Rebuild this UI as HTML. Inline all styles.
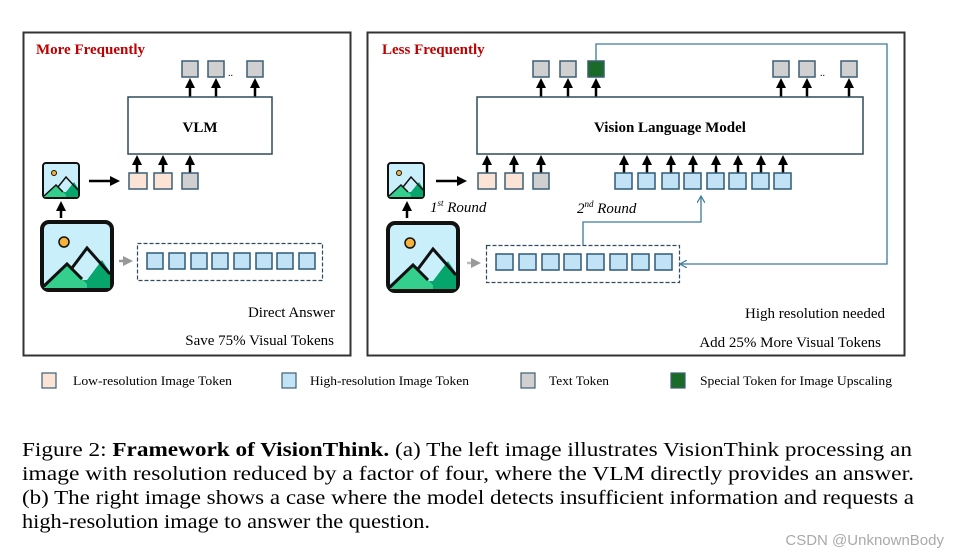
<!DOCTYPE html>
<html><head><meta charset="utf-8"><style>
body{margin:0;background:#fff;}
svg{display:block;font-family:"Liberation Serif",serif;}
</style></head><body>
<svg width="959" height="555" viewBox="0 0 959 555" xmlns="http://www.w3.org/2000/svg">
<defs>
<marker id="ab" markerWidth="4" markerHeight="4" refX="2" refY="2" orient="auto" markerUnits="strokeWidth"><path d="M0,0 L4,2 L0,4 z" fill="#000"/></marker>
<marker id="ag" markerWidth="4" markerHeight="4" refX="2" refY="2" orient="auto" markerUnits="strokeWidth"><path d="M0,0 L4,2 L0,4 z" fill="#999"/></marker>
<marker id="at" markerWidth="8" markerHeight="8" refX="6" refY="4" orient="auto" markerUnits="userSpaceOnUse"><path d="M0,0 L7,4 L0,8" fill="none" stroke="#3d7a99" stroke-width="1.2"/></marker>
<g id="img">
<rect x="0" y="0" width="70" height="68" rx="7" fill="#c9effa" stroke="#111" stroke-width="4"/>
<circle cx="22" cy="20" r="5" fill="#f7b23b" stroke="#111" stroke-width="1.5"/>
<path d="M2,66 L25,42 L40,58 L45,58 L60,38 L68,50 L68,66 Z" fill="#05a56c"/>
<path d="M2,66 L25,42 L45,62 L45,66 Z" fill="#34cf8d"/>
<path d="M2,64 L25,42 L40,57 M30,46 L45,26 L68,52" fill="none" stroke="#111" stroke-width="3"/>
</g>
<g id="sim">
<rect x="0" y="0" width="36" height="35" rx="3" fill="#c9effa" stroke="#111" stroke-width="2"/>
<circle cx="11" cy="10" r="2.5" fill="#f7b23b" stroke="#111" stroke-width="1"/>
<path d="M1,34 L13,22 L20,29 L23,29 L31,19 L35,25 L35,34 Z" fill="#05a56c"/>
<path d="M1,34 L13,22 L23,32 L23,34 Z" fill="#34cf8d"/>
<path d="M1,33 L13,22 L20,29 M15,24 L23,14 L35,27" fill="none" stroke="#111" stroke-width="1.5"/>
</g>
</defs>

<!-- Left panel -->
<rect x="23.5" y="32.5" width="327" height="323" fill="none" stroke="#333" stroke-width="2"/>
<text x="36" y="54" font-size="15" font-weight="bold" fill="#c00000">More Frequently</text>
<g fill="#d0d0d0" stroke="#3d5f75" stroke-width="1.5">
<rect x="182" y="61" width="16" height="16"/><rect x="208" y="61" width="16" height="16"/><rect x="247" y="61" width="16" height="16"/>
</g>
<text x="228" y="76" font-size="10">..</text>
<g stroke="#000" stroke-width="2.5" marker-end="url(#ab)">
<line x1="190" y1="97" x2="190" y2="83"/><line x1="216" y1="97" x2="216" y2="83"/><line x1="255" y1="97" x2="255" y2="83"/>
<line x1="137" y1="173" x2="137" y2="160"/><line x1="163" y1="173" x2="163" y2="160"/><line x1="190" y1="173" x2="190" y2="160"/>
<line x1="89" y1="181" x2="115" y2="181"/>
<line x1="61" y1="218" x2="61" y2="206"/>
</g>
<rect x="128" y="97" width="144" height="57" fill="#fff" stroke="#2f4a5c" stroke-width="1.5"/>
<text x="200" y="132" font-size="15" font-weight="bold" text-anchor="middle">VLM</text>
<rect x="129" y="173" width="18" height="16" fill="#fbe3d6" stroke="#3d5f75" stroke-width="1.5"/>
<rect x="154" y="173" width="18" height="16" fill="#fbe3d6" stroke="#3d5f75" stroke-width="1.5"/>
<rect x="182" y="173" width="16" height="16" fill="#d0d0d0" stroke="#3d5f75" stroke-width="1.5"/>
<use href="#sim" x="43" y="163"/>
<use href="#img" x="42" y="222"/>
<line x1="119" y1="261" x2="128" y2="261" stroke="#999" stroke-width="2.5" marker-end="url(#ag)"/>
<rect x="137.5" y="243.5" width="185" height="37" fill="none" stroke="#2f4a5c" stroke-width="1.2" stroke-dasharray="4,2"/>
<g fill="#c2e3f5" stroke="#2f5a75" stroke-width="1.5">
<rect x="147" y="253" width="16" height="16"/><rect x="169" y="253" width="16" height="16"/><rect x="191" y="253" width="16" height="16"/><rect x="212" y="253" width="16" height="16"/><rect x="234" y="253" width="16" height="16"/><rect x="256" y="253" width="16" height="16"/><rect x="277" y="253" width="16" height="16"/><rect x="299" y="253" width="16" height="16"/>
</g>
<text x="335" y="317" font-size="15" text-anchor="end">Direct Answer</text>
<text x="334" y="345" font-size="15" text-anchor="end">Save 75% Visual Tokens</text>

<!-- Right panel -->
<rect x="367.5" y="32.5" width="537" height="323" fill="none" stroke="#333" stroke-width="2"/>
<text x="382" y="54" font-size="15" font-weight="bold" fill="#c00000">Less Frequently</text>
<g fill="#d0d0d0" stroke="#3d5f75" stroke-width="1.5">
<rect x="533" y="61" width="16" height="16"/><rect x="560" y="61" width="16" height="16"/>
<rect x="773" y="61" width="16" height="16"/><rect x="799" y="61" width="16" height="16"/><rect x="841" y="61" width="16" height="16"/>
</g>
<rect x="588" y="61" width="16" height="16" fill="#1a6b28" stroke="#3d5f75" stroke-width="1.5"/>
<text x="820" y="76" font-size="10">..</text>
<g stroke="#000" stroke-width="2.5" marker-end="url(#ab)">
<line x1="541" y1="97" x2="541" y2="83"/><line x1="568" y1="97" x2="568" y2="83"/><line x1="596" y1="97" x2="596" y2="83"/>
<line x1="781" y1="97" x2="781" y2="83"/><line x1="807" y1="97" x2="807" y2="83"/><line x1="849" y1="97" x2="849" y2="83"/>
<line x1="487" y1="173" x2="487" y2="160"/><line x1="514" y1="173" x2="514" y2="160"/><line x1="541" y1="173" x2="541" y2="160"/>
<line x1="624" y1="173" x2="624" y2="160"/><line x1="647" y1="173" x2="647" y2="160"/><line x1="671" y1="173" x2="671" y2="160"/><line x1="693" y1="173" x2="693" y2="160"/><line x1="716" y1="173" x2="716" y2="160"/><line x1="738" y1="173" x2="738" y2="160"/><line x1="761" y1="173" x2="761" y2="160"/><line x1="783" y1="173" x2="783" y2="160"/>
<line x1="436" y1="181" x2="462" y2="181"/>
<line x1="407" y1="218" x2="407" y2="206"/>
</g>
<rect x="477" y="97" width="386" height="57" fill="#fff" stroke="#2f4a5c" stroke-width="1.5"/>
<text x="670" y="132" font-size="15" font-weight="bold" text-anchor="middle">Vision Language Model</text>
<rect x="478" y="173" width="18" height="16" fill="#fbe3d6" stroke="#3d5f75" stroke-width="1.5"/>
<rect x="505" y="173" width="18" height="16" fill="#fbe3d6" stroke="#3d5f75" stroke-width="1.5"/>
<rect x="533" y="173" width="16" height="16" fill="#d0d0d0" stroke="#3d5f75" stroke-width="1.5"/>
<g fill="#c2e3f5" stroke="#2f5a75" stroke-width="1.5">
<rect x="615" y="173" width="17" height="16"/><rect x="638" y="173" width="17" height="16"/><rect x="662" y="173" width="17" height="16"/><rect x="684" y="173" width="17" height="16"/><rect x="707" y="173" width="17" height="16"/><rect x="729" y="173" width="17" height="16"/><rect x="752" y="173" width="17" height="16"/><rect x="774" y="173" width="17" height="16"/>
</g>
<use href="#sim" x="388" y="163"/>
<use href="#img" x="388" y="223"/>
<line x1="467" y1="263" x2="476" y2="263" stroke="#bbb" stroke-width="2.5" marker-end="url(#ag)"/>
<text x="430" y="212" font-size="15" font-style="italic">1<tspan font-size="9" dy="-6">st</tspan><tspan dy="6"> Round</tspan></text>
<text x="577" y="213" font-size="15" font-style="italic">2<tspan font-size="9" dy="-6">nd</tspan><tspan dy="6"> Round</tspan></text>
<rect x="486.5" y="245.5" width="193" height="37" fill="none" stroke="#2f4a5c" stroke-width="1.2" stroke-dasharray="4,2"/>
<g fill="#c2e3f5" stroke="#2f5a75" stroke-width="1.5">
<rect x="496" y="254" width="17" height="16"/><rect x="519" y="254" width="17" height="16"/><rect x="542" y="254" width="17" height="16"/><rect x="564" y="254" width="17" height="16"/><rect x="587" y="254" width="17" height="16"/><rect x="610" y="254" width="17" height="16"/><rect x="632" y="254" width="17" height="16"/><rect x="655" y="254" width="17" height="16"/>
</g>
<polyline points="583,245 583,222 701,222 701,197" fill="none" stroke="#3d7a99" stroke-width="1.3" marker-end="url(#at)"/>
<polyline points="596,61 596,44 887,44 887,264 681,264" fill="none" stroke="#3d7a99" stroke-width="1.3" marker-end="url(#at)"/>
<text x="885" y="318" font-size="15" text-anchor="end">High resolution needed</text>
<text x="881" y="347" font-size="15" text-anchor="end">Add 25% More Visual Tokens</text>

<!-- Legend -->
<rect x="42" y="373" width="14" height="15" fill="#fbe3d6" stroke="#3d5f75" stroke-width="1.2"/>
<text x="73" y="385" font-size="13" textLength="159" lengthAdjust="spacingAndGlyphs">Low-resolution Image Token</text>
<rect x="282" y="373" width="14" height="15" fill="#c2e3f5" stroke="#3d5f75" stroke-width="1.2"/>
<text x="310" y="385" font-size="13" textLength="159" lengthAdjust="spacingAndGlyphs">High-resolution Image Token</text>
<rect x="521" y="373" width="14" height="15" fill="#d0d0d0" stroke="#3d5f75" stroke-width="1.2"/>
<text x="549" y="385" font-size="13" textLength="60" lengthAdjust="spacingAndGlyphs">Text Token</text>
<rect x="671" y="373" width="14" height="15" fill="#1a6b28" stroke="#3d5f75" stroke-width="1.2"/>
<text x="700" y="385" font-size="13" textLength="192" lengthAdjust="spacingAndGlyphs">Special Token for Image Upscaling</text>

<!-- Caption -->
<g font-size="20">
<text x="22" y="456" textLength="890" lengthAdjust="spacingAndGlyphs">Figure 2: <tspan font-weight="bold">Framework of VisionThink.</tspan> (a) The left image illustrates VisionThink processing an</text>
<text x="22" y="480" textLength="892" lengthAdjust="spacingAndGlyphs">image with resolution reduced by a factor of four, where the VLM directly provides an answer.</text>
<text x="22" y="504" textLength="892" lengthAdjust="spacingAndGlyphs">(b) The right image shows a case where the model detects insufficient information and requests a</text>
<text x="22" y="528" textLength="408" lengthAdjust="spacingAndGlyphs">high-resolution image to answer the question.</text>
</g>
<text x="944" y="545" font-size="15" fill="#aaa" text-anchor="end" font-family="Liberation Sans, sans-serif">CSDN @UnknownBody</text>
</svg>
</body></html>
